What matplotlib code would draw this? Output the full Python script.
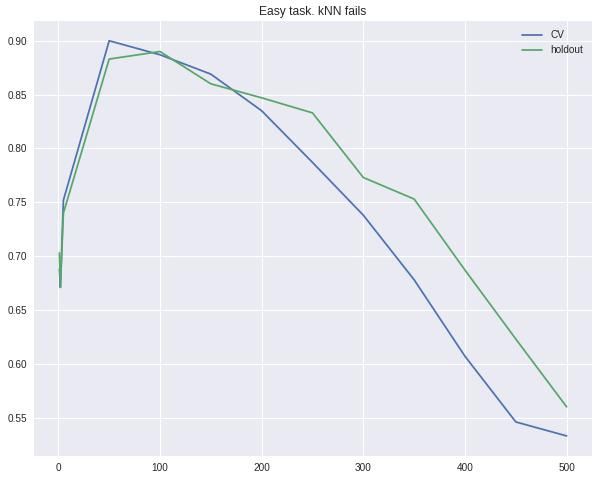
import matplotlib
matplotlib.use("Agg")
import matplotlib.pyplot as plt

plt.style.use("seaborn-v0_8")
plt.rcParams["font.family"] = ["Liberation Sans", "DejaVu Sans"]

k_values = [1, 2, 5, 50, 100, 150, 200, 250, 300, 350, 400, 450, 500]
cv_scores = [0.688, 0.671, 0.752, 0.900, 0.887, 0.869, 0.835, 0.787, 0.738, 0.678, 0.607, 0.546, 0.533]
holdout_scores = [0.703, 0.671, 0.740, 0.883, 0.890, 0.860, 0.847, 0.833, 0.773, 0.753, 0.687, 0.623, 0.560]

W, H = 599, 479
fig, ax = plt.subplots(figsize=(W / 72, H / 72), dpi=72)
fig.subplots_adjust(left=34 / W, right=592 / W, top=1 - 21 / H, bottom=1 - 455.7 / H)
ax.plot(k_values, cv_scores, label="CV")
ax.plot(k_values, holdout_scores, label="holdout")
ax.set_title("Easy task. kNN fails")
ax.legend()
fig.savefig("out.png", dpi=72)
